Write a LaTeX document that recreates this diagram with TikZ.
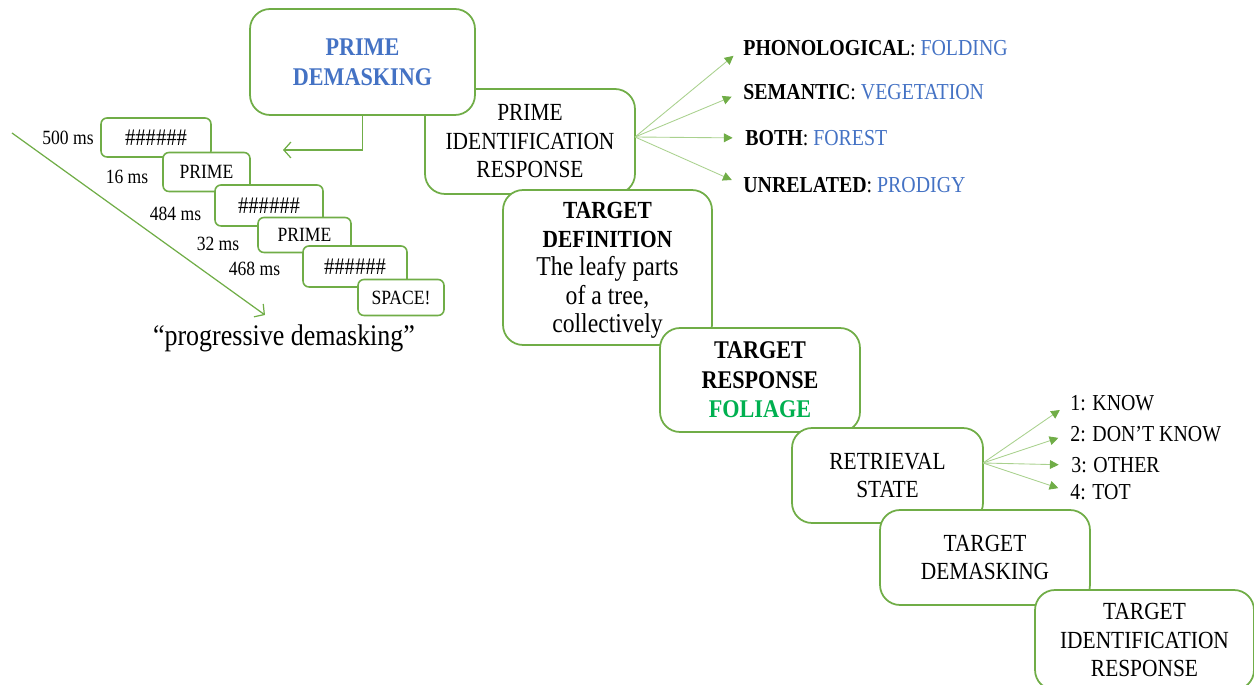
\documentclass[tikz,border=0pt]{standalone}
\usepackage{fontspec}
\setmainfont{Liberation Serif}[FakeStretch=0.87]
\usetikzlibrary{arrows.meta}
\definecolor{stagegreen}{HTML}{70AD47}
\definecolor{fangreen}{HTML}{A9D18E}
\definecolor{primeblue}{HTML}{4472C4}
\definecolor{foliagegreen}{HTML}{00B050}
\def\stagefont{\fontsize{14}{16.2}\selectfont}
\def\leaffont{\fontsize{15.5}{16.4}\selectfont}
\def\maskfont{\fontsize{11.5}{13}\selectfont}
\def\fanfont{\fontsize{13}{15}\selectfont}
\def\hashes{{\fontsize{13.5}{13}\selectfont\#\#\#\#\#\#}}
\tikzset{
	stage/.style={draw=stagegreen, line width=1pt, rounded corners=0.4cm, fill=white, align=center, inner sep=0pt, font=\stagefont},
	frame/.style={draw=stagegreen, line width=0.9pt, rounded corners=0.12cm, fill=white, inner sep=0pt, font=\maskfont},
	delay/.style={inner sep=0pt, font=\maskfont},
	fanlab/.style={anchor=west, inner sep=0pt, font=\fanfont},
	fan/.style={draw=fangreen, line width=0.5pt, shorten >=7pt, -{Triangle[length=5pt, width=5pt, fill=stagegreen, color=stagegreen]}},
	timeline/.style={draw=stagegreen, line width=0.7pt, -{Straight Barb[length=4pt, width=9pt]}}
}

\begin{document}
\begin{tikzpicture}[x=0.02cm, y=-0.02cm]
		%%%%% START %%%%%
		\useasboundingbox (0, 0) rectangle (1254, 685);
		
		% stages
		\node[stage, minimum width=4.2cm, minimum height=2.1cm] (primeid) at (530, 141.5) {PRIME\\IDENTIFICATION\\RESPONSE};
		\node[stage, minimum width=4.5cm, minimum height=2.12cm, font=\fontsize{14.5}{17}\selectfont\bfseries, text=primeblue] (primedm) at (362.5, 62) {PRIME\\DEMASKING};
		\node[stage, minimum width=4.18cm, minimum height=3.1cm, text depth=0pt] (targetdef) at (607.5, 267.5) {\textbf{TARGET}\\\textbf{DEFINITION}\\{\leaffont The leafy parts}\\{\leaffont of a tree,}\\{\leaffont collectively}};
		\node[stage, minimum width=4.0cm, minimum height=2.08cm, font=\fontsize{14.5}{16.7}\selectfont\bfseries] (targetresp) at (760, 380) {TARGET\\RESPONSE\\\textcolor{foliagegreen}{FOLIAGE}};
		\node[stage, minimum width=3.82cm, minimum height=1.9cm] (retrieval) at (887.5, 475.5) {RETRIEVAL\\STATE};
		\node[stage, minimum width=4.2cm, minimum height=1.9cm] (targetdm) at (985, 557.5) {TARGET\\DEMASKING};
		\node[stage, minimum width=4.38cm, minimum height=2.0cm] (targetid) at (1144.5, 640) {TARGET\\IDENTIFICATION\\RESPONSE};
		
		% masking sequence
		\node[frame, minimum width=2.2cm, minimum height=0.78cm] (mask1) at (156, 137.5) {\hashes};
		\node[frame, minimum width=1.74cm, minimum height=0.78cm] (prime1) at (206.5, 172) {PRIME};
		\node[frame, minimum width=2.16cm, minimum height=0.82cm] (mask2) at (269, 205.5) {\hashes};
		\node[frame, minimum width=1.86cm, minimum height=0.7cm] (prime2) at (304.5, 235) {PRIME};
		\node[frame, minimum width=2.08cm, minimum height=0.82cm] (mask3) at (355, 266.5) {\hashes};
		\node[frame, minimum width=1.72cm, minimum height=0.72cm] (space) at (401, 297.5) {SPACE!};
		
		\node[delay] (t500) at (68, 138) {500 ms};
		\node[delay] (t16) at (127, 177) {16 ms};
		\node[delay] (t484) at (175.5, 214) {484 ms};
		\node[delay] (t32) at (218, 244) {32 ms};
		\node[delay] (t468) at (254.5, 269) {468 ms};
		
		\coordinate (tstart) at (12, 133);
		\coordinate (tend) at (265, 315);
		\draw[timeline] (tstart) -- (tend);
		\node[font=\fontsize{17}{20}\selectfont] (progdm) at (284, 338) {“progressive demasking”};
		
		\coordinate (maskin) at (283, 150);
		\draw[timeline] (primedm.south) |- (maskin);
		
		% prime responses
		\node[fanlab] (phon) at (743, 48) {\textbf{PHONOLOGICAL}: \textcolor{primeblue}{FOLDING}};
		\node[fanlab] (sem) at (743, 92) {\textbf{SEMANTIC}: \textcolor{primeblue}{VEGETATION}};
		\node[fanlab] (both) at (745, 138) {\textbf{BOTH}: \textcolor{primeblue}{FOREST}};
		\node[fanlab] (unrel) at (743, 185) {\textbf{UNRELATED}: \textcolor{primeblue}{PRODIGY}};
		
		\coordinate (pfan) at (635, 137);
		\draw[fan] (pfan) -- (phon.west);
		\draw[fan] (pfan) -- (sem.west);
		\draw[fan] (pfan) -- (both.west);
		\draw[fan] (pfan) -- (unrel.west);
		
		% retrieval states
		\node[fanlab] (know) at (1070, 403) {1: KNOW};
		\node[fanlab] (dknow) at (1070, 434) {2: DON’T KNOW};
		\node[fanlab] (other) at (1071, 465) {3: OTHER};
		\node[fanlab] (tot) at (1070, 492) {4: TOT};
		
		\coordinate (rfan) at (983, 463);
		\draw[fan] (rfan) -- (know.west);
		\draw[fan] (rfan) -- (dknow.west);
		\draw[fan] (rfan) -- (other.west);
		\draw[fan] (rfan) -- (tot.west);
		
		%%%%% END %%%%%
\end{tikzpicture}
\end{document}
